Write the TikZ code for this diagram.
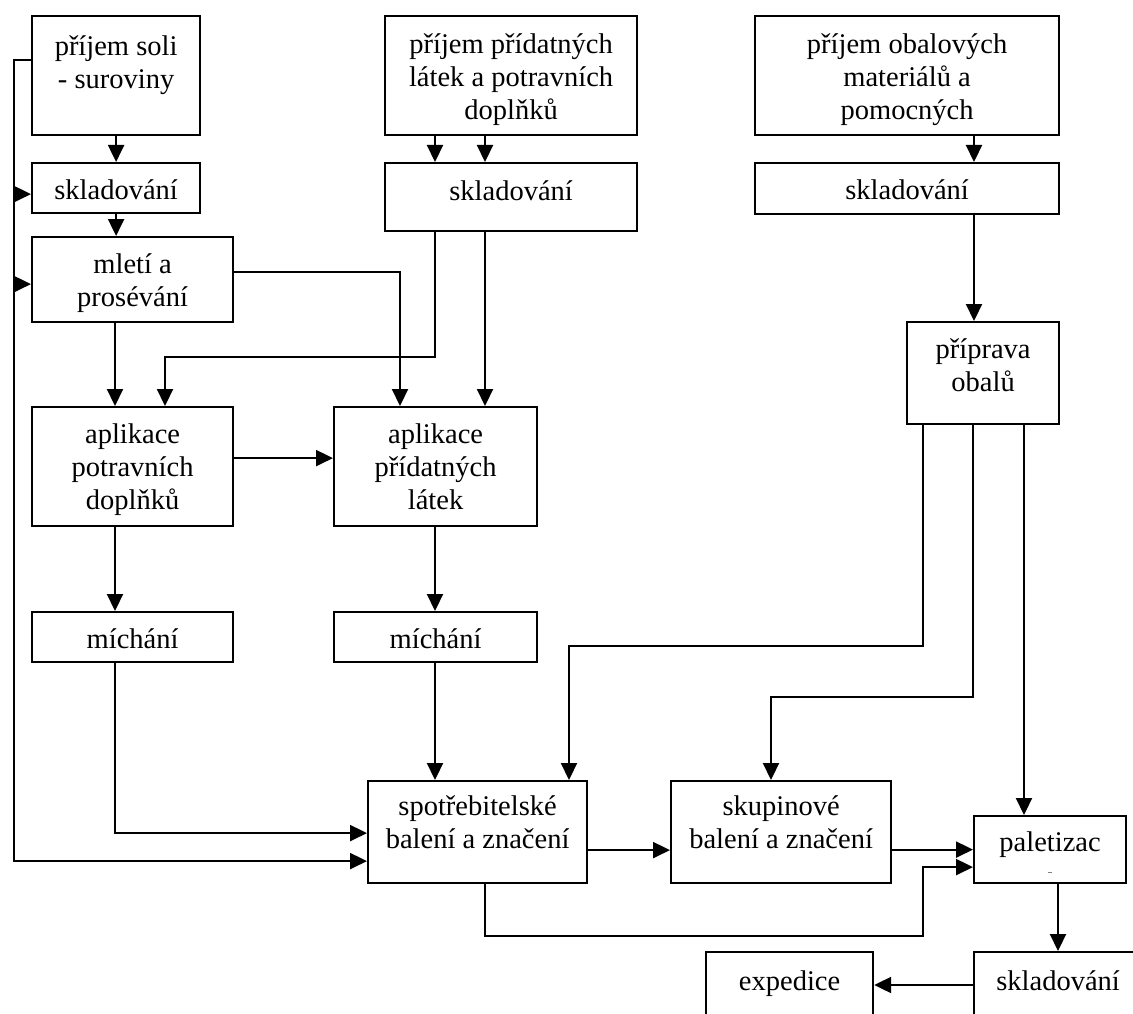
\documentclass[tikz,border=0pt]{standalone}
\usepackage{fontspec}
\setmainfont{Liberation Serif}
\usetikzlibrary{arrows.meta,calc}
\begin{document}
\begin{tikzpicture}[x=1pt,y=-1pt,
  box/.style={draw,line width=2.2pt,anchor=north west,inner sep=0pt},
  txt/.style={anchor=north,inner sep=0pt,align=center,font=\fontsize{28.5}{33}\selectfont},
  arr/.style={line width=2.2pt,-{Triangle[length=17pt,width=16pt]}}]
\useasboundingbox (0,0) rectangle (1133,1014);
\clip (0,0) rectangle (1133,1014);
\fill[white] (0,0) rectangle (1133,1014);
% boxes
\node[box,minimum width=168pt,minimum height=119pt] (b_soli) at (31,15) {};
\node[box,minimum width=168pt,minimum height=50pt] (b_sklL) at (31,162) {};
\node[box,minimum width=201pt,minimum height=85pt] (b_mleti) at (31,236) {};
\node[box,minimum width=252pt,minimum height=119pt] (b_prid) at (384,15) {};
\node[box,minimum width=252pt,minimum height=68pt] (b_sklM) at (384,162) {};
\node[box,minimum width=304pt,minimum height=119pt] (b_obal) at (754,15) {};
\node[box,minimum width=304pt,minimum height=51pt] (b_sklR) at (754,162) {};
\node[box,minimum width=152pt,minimum height=102pt] (b_pripr) at (906,321) {};
\node[box,minimum width=201pt,minimum height=119pt] (b_aplP) at (31,406) {};
\node[box,minimum width=203pt,minimum height=119pt] (b_aplA) at (333,406) {};
\node[box,minimum width=201pt,minimum height=50pt] (b_michL) at (31,611) {};
\node[box,minimum width=203pt,minimum height=50pt] (b_michM) at (333,611) {};
\node[box,minimum width=219pt,minimum height=102pt] (b_spot) at (367,780) {};
\node[box,minimum width=220pt,minimum height=102pt] (b_skup) at (670,780) {};
\node[box,minimum width=152pt,minimum height=67pt] (b_pal) at (973,815) {};
\node[box,minimum width=168pt,minimum height=100pt] (b_sklB) at (973,951) {};
\node[box,minimum width=167pt,minimum height=100pt] (b_exp) at (705,951) {};
% texts
\node[txt] (t_soli) at ([yshift=-17pt]b_soli.north) {\strut příjem soli\\- suroviny};
\node[txt] (t_sklL) at ([yshift=-14pt]b_sklL.north) {\strut skladování};
\node[txt] (t_mleti) at ([yshift=-14pt]b_mleti.north) {\strut mletí a\\prosévání};
\node[txt] (t_prid) at ([yshift=-15pt]b_prid.north) {\strut příjem přídatných\\látek a potravních\\doplňků};
\node[txt] (t_sklM) at ([yshift=-15pt]b_sklM.north) {\strut skladování};
\node[txt] (t_obal) at ([yshift=-15pt]b_obal.north) {\strut příjem obalových\\materiálů a\\pomocných};
\node[txt] (t_sklR) at ([yshift=-14pt]b_sklR.north) {\strut skladování};
\node[txt] (t_pripr) at ([yshift=-14pt]b_pripr.north) {\strut příprava\\obalů};
\node[txt] (t_aplP) at ([yshift=-14pt]b_aplP.north) {\strut aplikace\\potravních\\doplňků};
\node[txt] (t_aplA) at ([yshift=-14pt]b_aplA.north) {\strut aplikace\\přídatných\\látek};
\node[txt] (t_michL) at ([yshift=-14pt]b_michL.north) {\strut míchání};
\node[txt] (t_michM) at ([yshift=-14pt]b_michM.north) {\strut míchání};
\node[txt] (t_spot) at ([yshift=-12pt]b_spot.north) {\strut spotřebitelské\\balení a značení};
\node[txt] (t_skup) at ([yshift=-12pt]b_skup.north) {\strut skupinové\\balení a značení};
\node[txt] (t_pal) at ([yshift=-13pt]b_pal.north) {\strut paletizac};
\node[txt] (t_sklB) at ([yshift=-16pt]b_sklB.north) {\strut skladování};
\node[txt] (t_exp) at ([yshift=-16pt]b_exp.north) {\strut expedice};
\draw[line width=1pt,gray] (1048,872) -- (1052,872);
% left rail
\coordinate (r1) at ([xshift=-17pt,yshift=-6pt]b_sklL.west);
\coordinate (r2) at ([xshift=-17pt,yshift=-4.5pt]b_mleti.west);
\draw[arr] ([yshift=-45pt]b_soli.north west) -- ++(-17,0) |- ([yshift=-29pt]b_spot.west);
\draw[arr] (r1) -- ([yshift=-6pt]b_sklL.west);
\draw[arr] (r2) -- ([yshift=-4.5pt]b_mleti.west);
% left column
\draw[arr] (b_soli.south) -- (b_sklL.north);
\draw[arr] (b_sklL.south) -- (b_sklL.south |- b_mleti.north);
\draw[arr] ([xshift=84pt]b_mleti.south west) -- ([xshift=84pt]b_aplP.north west);
\draw[arr] ([yshift=7.5pt]b_mleti.east) -| ([xshift=67pt]b_aplA.north west);
% middle column
\draw[arr] ([xshift=51pt]b_prid.south west) -- ([xshift=51pt]b_sklM.north west);
\draw[arr] ([xshift=101pt]b_prid.south west) -- ([xshift=101pt]b_sklM.north west);
\draw[arr] ([xshift=101pt]b_sklM.south west) -- ([xshift=152pt]b_aplA.north west);
\draw[arr] ([xshift=51pt]b_sklM.south west) -- ++(0,125) -| ([xshift=134pt]b_aplP.north west);
\draw[arr] ([yshift=8.5pt]b_aplP.east) -- ([yshift=8.5pt]b_aplA.west);
\draw[arr] ([xshift=84pt]b_aplP.south west) -- ([xshift=84pt]b_michL.north west);
\draw[arr] ([xshift=102pt]b_aplA.south west) -- ([xshift=102pt]b_michM.north west);
\draw[arr] ([xshift=84pt]b_michL.south west) |- ([yshift=-1pt]b_spot.west);
\draw[arr] ([xshift=102pt]b_michM.south west) -- ([xshift=68pt]b_spot.north west);
% right column
\draw[arr] ([xshift=220pt]b_obal.south west) -- ([xshift=220pt]b_sklR.north west);
\draw[arr] ([xshift=220pt]b_sklR.south west) -- ([xshift=68pt]b_pripr.north west);
\draw[arr] ([xshift=17pt]b_pripr.south west) -- ++(0,221) -| ([xshift=202pt]b_spot.north west);
\draw[arr] ([xshift=67pt]b_pripr.south west) -- ++(0,272) -| ([xshift=101pt]b_skup.north west);
\draw[arr] ([xshift=118pt]b_pripr.south west) -- ([xshift=51pt]b_pal.north west);
% bottom
\draw[arr] ([yshift=-18pt]b_spot.east) -- ([yshift=-18pt]b_skup.west);
\draw[arr] (b_pal.west -| b_skup.east) -- (b_pal.west);
\draw[arr] ([xshift=118pt]b_spot.south west) -- ++(0,52) -- ++(438,0) |- ([yshift=-17.5pt]b_pal.west);
\draw[arr] ([xshift=85pt]b_pal.south west) -- ([xshift=85pt]b_sklB.north west);
\draw[arr] ([yshift=-34pt]b_sklB.north west) -- ([yshift=-34pt]b_exp.north east);
\end{tikzpicture}
\end{document}
